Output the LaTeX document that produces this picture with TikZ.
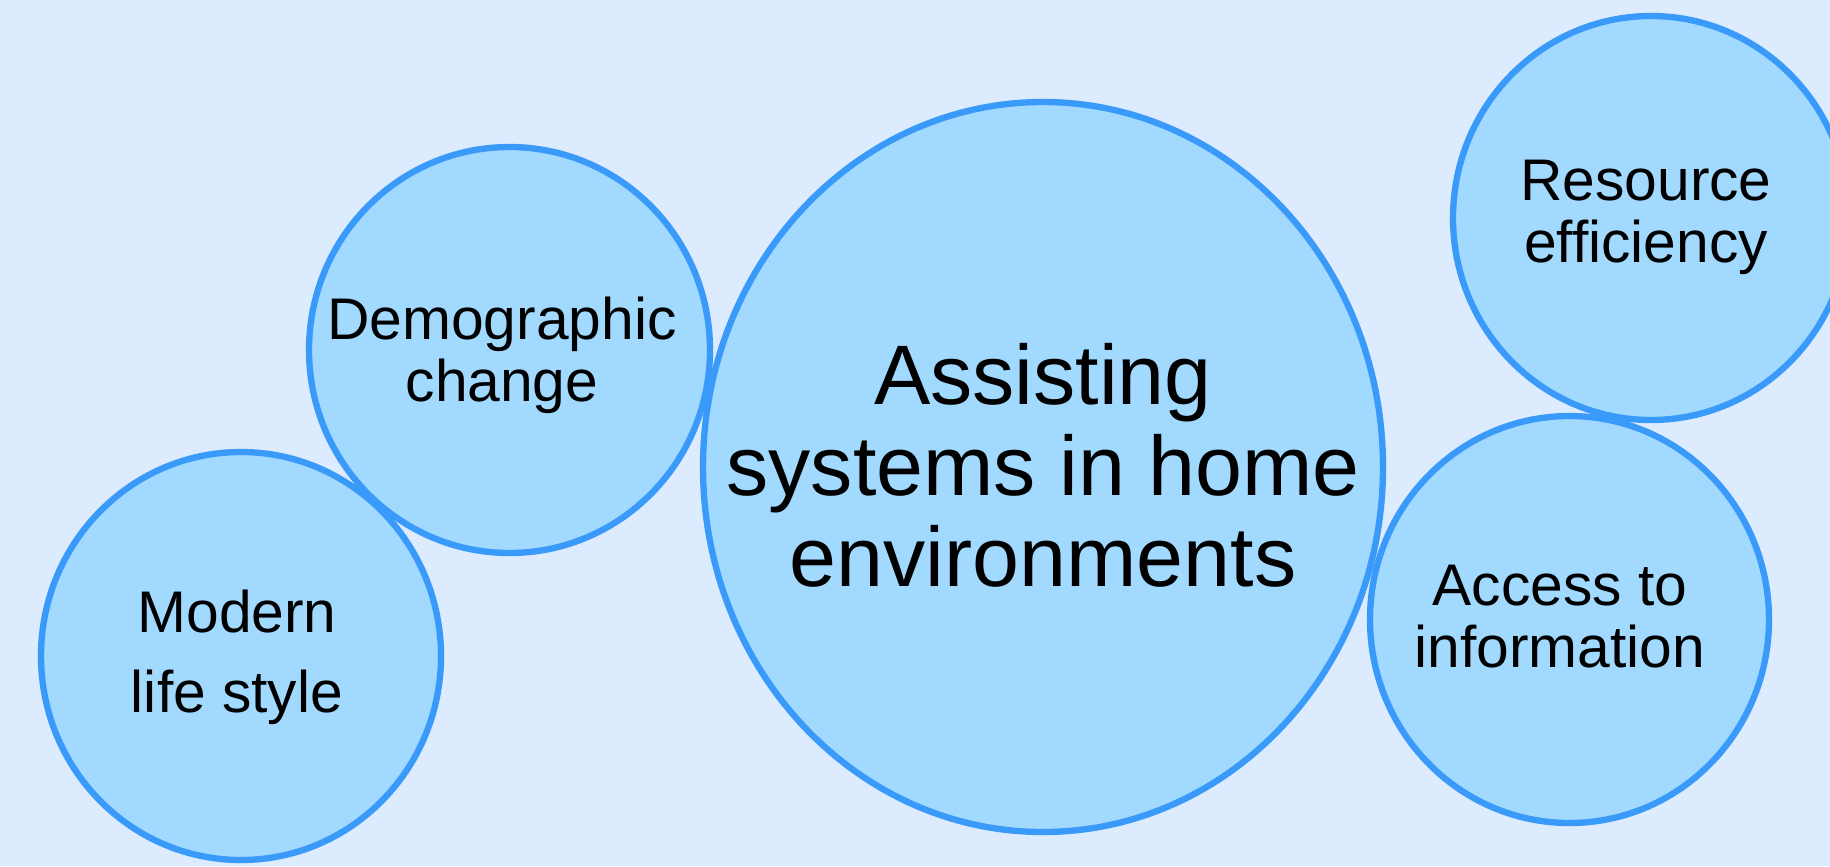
\documentclass[tikz,border=0pt]{standalone}
\usepackage{fontspec}
\setmainfont{Liberation Sans}
\usetikzlibrary{positioning}
\definecolor{pagebg}{RGB}{220,235,254}
\definecolor{bubblefill}{RGB}{162,217,254}
\definecolor{bubbleline}{RGB}{58,154,250}

\begin{document}
\begin{tikzpicture}[x=0.01cm,y=-0.01cm,
            ring/.style={draw=bubbleline,line width=1.8pt},
            small/.style={align=center,inner sep=0pt,font=\fontsize{16.7}{17.6}\selectfont},
            large/.style={align=center,inner sep=0pt,font=\fontsize{24}{25.9}\selectfont}]

            \fill[pagebg] (0,0) rectangle (1830,866);
            \useasboundingbox (0,0) rectangle (1830,866);

            % centre x / centre y / x radius / y radius
            \def\bubbles{1043/467/340/365, 509.5/350/200.5/203, 241/656/200/204, 1569.5/619.5/199.5/203.5, 1651/218/198/202}
            \foreach \cx/\cy/\rx/\ry in \bubbles
               \fill[bubblefill] (\cx,\cy) ellipse [x radius=\rx, y radius=\ry];
            \foreach \cx/\cy/\rx/\ry in \bubbles
               \draw[ring] (\cx,\cy) ellipse [x radius=\rx, y radius=\ry];

            \node[large] (assist) at (1043,465) {Assisting\\systems in home\\environments};
            \node[small] (demo) at (502,355.5) {Demographic\\change};
            \node[small,font=\fontsize{16.7}{22.8}\selectfont] (modern) at (237,657) {Modern\\life style};
            \node[small] (resource) at (1646,217) {Resource\\efficiency};
            \node[small] (access) at (1560,617) {Access to\\information};
\end{tikzpicture}
\end{document}
